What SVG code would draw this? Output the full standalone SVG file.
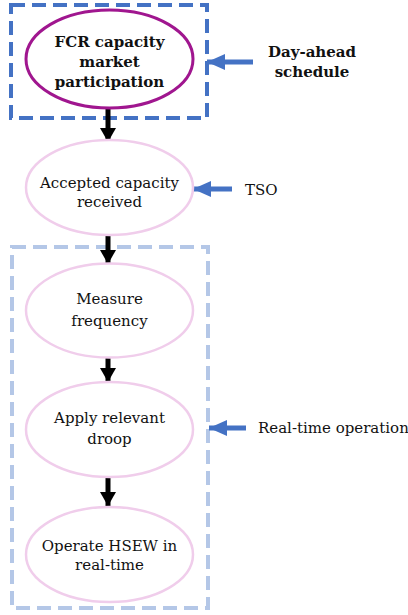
<svg xmlns="http://www.w3.org/2000/svg" width="408" height="615" viewBox="0 0 408 615">
<style>
text{font-family:'DejaVu Serif',serif;fill:#111;text-anchor:middle;font-size:15px}
.b{font-weight:bold}
.l{text-anchor:start}
.pink{fill:#fff;stroke:#F0CDEB;stroke-width:2.5}
.flow{stroke:#000;stroke-width:5;fill:none}
.side{stroke:#4472C4;stroke-width:5;fill:none}
</style>
<defs>
<marker id="ah" markerUnits="userSpaceOnUse" markerWidth="16" markerHeight="16" refX="14" refY="8" orient="auto"><path d="M0,0L14,8L0,16Z" fill="#000"/></marker>
<marker id="bh" markerUnits="userSpaceOnUse" markerWidth="18" markerHeight="16" refX="18" refY="8" orient="auto"><path d="M0,0L18,8L0,16Z" fill="#4472C4"/></marker>
</defs>
<g id="dayahead-box"><rect x="11" y="5" width="196" height="113" fill="none" stroke="#4472C4" stroke-width="4" stroke-dasharray="14,7"/></g>
<g id="realtime-box"><rect x="12" y="247" width="196" height="361" fill="none" stroke="#B4C7E7" stroke-width="4" stroke-dasharray="14,7"/></g>
<g id="connectors">
<line class="flow" x1="108" y1="108" x2="108" y2="142" marker-end="url(#ah)"/>
<line class="flow" x1="108" y1="235" x2="108" y2="264" marker-end="url(#ah)"/>
<line class="flow" x1="108" y1="357" x2="108" y2="382" marker-end="url(#ah)"/>
<line class="flow" x1="108" y1="477" x2="108" y2="506" marker-end="url(#ah)"/>
<line class="side" x1="253" y1="62" x2="207" y2="62" marker-end="url(#bh)"/>
<line class="side" x1="232" y1="189" x2="193" y2="189" marker-end="url(#bh)"/>
<line class="side" x1="246" y1="428" x2="209" y2="428" marker-end="url(#bh)"/>
</g>
<g id="n1"><ellipse cx="109.5" cy="59" rx="83.5" ry="49" fill="#fff" stroke="#A0168F" stroke-width="3"/>
<text class="b" x="109.5" y="47" font-size="16">FCR capacity</text>
<text class="b" x="109.5" y="67" font-size="16">market</text>
<text class="b" x="109.5" y="87" font-size="16">participation</text></g>
<g id="n2"><ellipse class="pink" cx="109.5" cy="187.5" rx="83.5" ry="47.5"/>
<text x="109.5" y="188">Accepted capacity</text><text x="109.5" y="207">received</text></g>
<g id="n3"><ellipse class="pink" cx="109.5" cy="310.5" rx="83.5" ry="47"/>
<text x="109.5" y="304">Measure</text><text x="109.5" y="326">frequency</text></g>
<g id="n4"><ellipse class="pink" cx="109.5" cy="429.5" rx="83.5" ry="47.5"/>
<text x="109.5" y="423">Apply relevant</text><text x="109.5" y="444">droop</text></g>
<g id="n5"><ellipse class="pink" cx="109.5" cy="554.5" rx="83.5" ry="47.5"/>
<text x="109.5" y="551">Operate HSEW in</text><text x="109.5" y="570">real-time</text></g>
<g id="l1"><text class="b" x="312" y="57" font-size="16">Day-ahead</text><text class="b" x="312" y="77" font-size="16">schedule</text></g>
<g id="l2"><text class="l" x="245" y="195">TSO</text></g>
<g id="l3"><text class="l" x="258" y="433">Real-time operation</text></g>
</svg>
